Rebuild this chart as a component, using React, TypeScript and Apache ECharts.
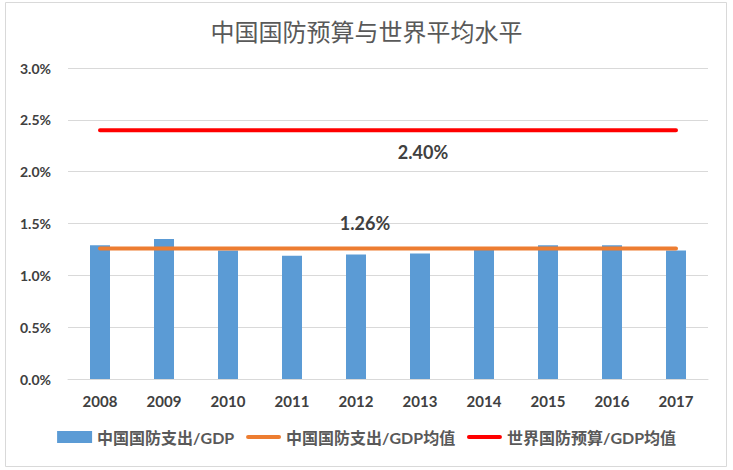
import React, { useEffect, useRef } from "react";
import * as echarts from "echarts";

const years = ["2008", "2009", "2010", "2011", "2012", "2013", "2014", "2015", "2016", "2017"];
const chinaShare = [1.29, 1.35, 1.24, 1.19, 1.2, 1.21, 1.25, 1.29, 1.29, 1.24];
const chinaMean = [1.26, 1.26, 1.26, 1.26, 1.26, 1.26, 1.26, 1.26, 1.26, 1.26];
const worldMean = [2.4, 2.4, 2.4, 2.4, 2.4, 2.4, 2.4, 2.4, 2.4, 2.4];
const seriesNames = ["中国国防支出/GDP", "中国国防支出/GDP均值", "世界国防预算/GDP均值"];
const titleText = "中国国防预算与世界平均水平";

const font = "Lato, 'Noto Sans CJK SC', sans-serif";
const lineIcon = "path://M2,0 h31 a2,2 0 0 1 0,4 h-31 a2,2 0 0 1 0,-4 z";

export default function App() {
  const ref = useRef<HTMLDivElement>(null);
  useEffect(() => {
    if (!ref.current) return;
    const chart = echarts.init(ref.current, null, { renderer: "svg" });
    chart.setOption({
      animation: false,
      backgroundColor: "#ffffff",
      textStyle: { fontFamily: font },
      title: {
        text: titleText,
        left: "center",
        top: 13,
        textStyle: { fontFamily: "'Noto Sans CJK SC', sans-serif", fontSize: 24, fontWeight: "normal", color: "#595959" },
      },
      graphic: [
        {
          type: "rect",
          shape: { x: 5.5, y: 2.5, width: 721, height: 464 },
          style: { fill: "none", stroke: "#d9d9d9", lineWidth: 1 },
          silent: true,
        },
      ],
      grid: { left: 68, right: 25, top: 68, bottom: 91 },
      legend: {
        bottom: 20,
        left: "center",
        itemWidth: 35,
        itemHeight: 12,
        itemGap: 12,
        textStyle: { fontFamily: font, fontSize: 16, fontWeight: "bold", color: "#595959" },
        data: [
          { name: seriesNames[0], icon: "rect" },
          { name: seriesNames[1], icon: lineIcon },
          { name: seriesNames[2], icon: lineIcon },
        ],
      },
      xAxis: {
        type: "category",
        data: years,
        axisLine: { lineStyle: { color: "#d9d9d9" } },
        axisTick: { show: false },
        axisLabel: { margin: 14, fontFamily: font, fontSize: 15, fontWeight: "bold", color: "#404040" },
      },
      yAxis: {
        type: "value",
        min: 0,
        max: 3,
        interval: 0.5,
        axisLine: { show: false },
        axisTick: { show: false },
        splitLine: { lineStyle: { color: "#d9d9d9" } },
        axisLabel: {
          margin: 17,
          fontFamily: font,
          fontSize: 14,
          fontWeight: "bold",
          color: "#404040",
          formatter: (v: number) => v.toFixed(1) + "%",
        },
      },
      series: [
        {
          name: seriesNames[0],
          type: "bar",
          data: chinaShare,
          barWidth: 20,
          itemStyle: { color: "#5b9bd5" },
        },
        {
          name: seriesNames[1],
          type: "line",
          data: chinaMean,
          symbol: "circle",
          symbolSize: 0,
          showSymbol: true,
          lineStyle: { color: "#ed7d31", width: 4, cap: "round" },
          itemStyle: { color: "#ed7d31" },
          label: {
            show: true,
            position: "top",
            distance: 16,
            offset: [9, 0],
            fontFamily: font,
            fontSize: 18,
            fontWeight: "bold",
            color: "#404040",
            formatter: (p: any) => (p.dataIndex === 4 ? Number(p.value).toFixed(2) + "%" : ""),
          },
          z: 3,
        },
        {
          name: seriesNames[2],
          type: "line",
          data: worldMean,
          symbol: "circle",
          symbolSize: 0,
          showSymbol: true,
          lineStyle: { color: "#ff0000", width: 4, cap: "round" },
          itemStyle: { color: "#ff0000" },
          label: {
            show: true,
            position: "bottom",
            distance: 13,
            offset: [3, 0],
            fontFamily: font,
            fontSize: 18,
            fontWeight: "bold",
            color: "#404040",
            formatter: (p: any) => (p.dataIndex === 5 ? Number(p.value).toFixed(2) + "%" : ""),
          },
          z: 3,
        },
      ],
    });
    return () => chart.dispose();
  }, []);
  return (
    <div
      ref={ref}
      style={{ position: "fixed", left: 0, top: 0, width: 733, height: 470 }}
    />
  );
}
